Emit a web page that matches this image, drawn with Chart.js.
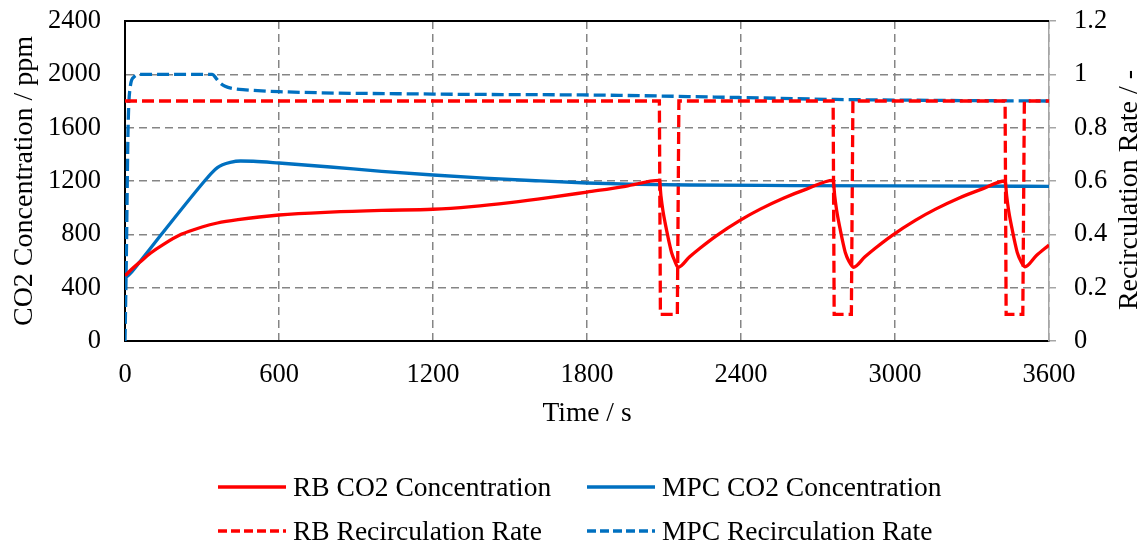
<!DOCTYPE html>
<html>
<head>
<meta charset="utf-8">
<script src="https://cdn.jsdelivr.net/npm/chart.js@4/dist/chart.umd.min.js"></script>
<style>
  html, body { margin: 0; padding: 0; background: #fff; }
  #wrap { position: relative; width: 1148px; height: 545px; overflow: hidden; }
  #c { position: absolute; left: 0; top: 0; }
  .lg { position: absolute; font-family: "Liberation Serif", "Times New Roman", serif; font-size: 27.5px; color: #000; line-height: 32px; white-space: nowrap; }
  .sw { position: absolute; }
</style>
</head>
<body>
<div id="wrap">
  <canvas id="c" width="1148" height="545"></canvas>
  <div id="legend"></div>
</div>
<script>
// ---- data ----
const seriesNames = ["RB CO2 Concentration", "MPC CO2 Concentration", "RB Recirculation Rate", "MPC Recirculation Rate"];

const rbCo2Time  = [0, 30, 60, 100, 150, 219, 300, 360, 440, 600, 800, 1000, 1200, 1350, 1500, 1650, 1800, 1950, 2082,
                    2088, 2096, 2104, 2110, 2120, 2130, 2142, 2155, 2200, 2240, 2305, 2396, 2475, 2565, 2655, 2759,
                    2765, 2773, 2781, 2787, 2797, 2807, 2820, 2838, 2883, 2923, 2988, 3079, 3158, 3248, 3338, 3429,
                    3435, 3443, 3451, 3457, 3467, 3477, 3490, 3506, 3550, 3600];
const rbCo2Value = [490, 545, 595, 660, 725, 800, 855, 885, 910, 945, 967, 980, 988, 1008, 1038, 1075, 1117, 1160, 1205,
                    1090, 975, 890, 832, 740, 660, 600, 553, 632, 696, 791, 905, 989, 1071, 1139, 1205,
                    1090, 975, 890, 832, 740, 660, 600, 553, 632, 696, 791, 905, 989, 1071, 1139, 1200,
                    1090, 975, 890, 832, 740, 660, 600, 557, 640, 720];

const mpcCo2Time  = [0, 20, 60, 142, 310, 340, 360, 380, 410, 450, 500, 600, 800, 1000, 1200, 1400, 1600, 1800, 2000, 2200, 2600, 3000, 3600];
const mpcCo2Value = [470, 505, 600, 800, 1200, 1265, 1300, 1322, 1340, 1350, 1348, 1335, 1305, 1272, 1245, 1222, 1202, 1185, 1175, 1170, 1166, 1163, 1160];

const rbRateTime  = [0, 2082, 2086, 2152, 2158, 2759, 2763, 2830, 2836, 3429, 3433, 3498, 3504, 3600];
const rbRateValue = [0.9, 0.9, 0.1, 0.1, 0.9, 0.9, 0.1, 0.1, 0.9, 0.9, 0.1, 0.1, 0.9, 0.9];

const mpcRateTime  = [0, 5, 12, 20, 35, 60, 340, 355, 370, 390, 420, 470, 600, 1200, 1850, 2400, 2760, 3200, 3600];
const mpcRateValue = [0, 0.3, 0.8, 0.95, 0.99, 1.0, 1.0, 0.985, 0.968, 0.955, 0.947, 0.942, 0.935, 0.926, 0.922, 0.913, 0.906, 0.902, 0.9];

const xTickLabels  = ["0", "600", "1200", "1800", "2400", "3000", "3600"];
const yTickLabels  = ["0", "400", "800", "1200", "1600", "2000", "2400"];
const y2TickLabels = ["0", "0.2", "0.4", "0.6", "0.8", "1", "1.2"];

const xTitle = "Time / s";
const yTitle = "CO2 Concentration / ppm";
const y2Title = "Recirculation Rate / -";

// ---- chart ----
const RED = "#FF0000", BLUE = "#0070C0";
const FONT = '"Liberation Serif", "Times New Roman", serif';
const DASH = [12, 5];
const zip = (t, v) => t.map((x, i) => ({x: x, y: v[i]}));

Chart.defaults.color = "#000";
Chart.defaults.font.family = FONT;

const frame = {
  id: "frame",
  beforeDatasetsDraw(chart) {
    const {ctx, chartArea: a} = chart;
    ctx.save();
    ctx.strokeStyle = "#000";
    ctx.lineWidth = 2;
    ctx.beginPath();
    ctx.moveTo(a.left - 1, a.top);
    ctx.lineTo(a.right, a.top);
    ctx.stroke();
    ctx.restore();
  },
  afterDraw(chart) {
    const {ctx, chartArea: a} = chart;
    ctx.save();
    ctx.font = "28px " + FONT;
    ctx.fillStyle = "#000";
    ctx.textAlign = "center";
    ctx.textBaseline = "middle";
    ctx.translate(1130, (a.top + a.bottom) / 2 + 9);
    ctx.rotate(-Math.PI / 2);
    ctx.fillText(y2Title, 0, 0);
    ctx.restore();
  }
};

const gridColor = "#858585";
const noVPad = s => { s.paddingTop = 0; s.paddingBottom = 0; };

new Chart(document.getElementById("c"), {
  type: "line",
  data: {
    datasets: [
      { label: seriesNames[0], data: zip(rbCo2Time, rbCo2Value), yAxisID: "y", borderColor: RED, borderWidth: 3.3, pointRadius: 0, cubicInterpolationMode: "monotone" },
      { label: seriesNames[1], data: zip(mpcCo2Time, mpcCo2Value), yAxisID: "y", borderColor: BLUE, borderWidth: 3.3, pointRadius: 0, cubicInterpolationMode: "monotone" },
      { label: seriesNames[2], data: zip(rbRateTime, rbRateValue), yAxisID: "y2", borderColor: RED, borderWidth: 3.3, borderDash: DASH, pointRadius: 0, tension: 0 },
      { label: seriesNames[3], data: zip(mpcRateTime, mpcRateValue), yAxisID: "y2", borderColor: BLUE, borderWidth: 3.3, borderDash: DASH, pointRadius: 0, cubicInterpolationMode: "monotone" }
    ]
  },
  options: {
    responsive: false,
    animation: false,
    devicePixelRatio: 1,
    layout: { padding: { top: 21, left: 0, right: 0, bottom: 105 } },
    plugins: { legend: { display: false }, tooltip: { enabled: false } },
    scales: {
      x: {
        type: "linear", min: 0, max: 3600,
        afterFit(s) { s.height = 99; s.paddingLeft = 0; s.paddingRight = 0; },
        ticks: { stepSize: 600, padding: 18, font: { size: 26.5 }, maxRotation: 0,
                 callback: (v, i) => xTickLabels[i] },
        grid: { color: gridColor, lineWidth: 1.5, drawTicks: false },
        border: { color: "#000", width: 2, dash: [8, 5] },
        title: { display: true, text: xTitle, font: { size: 27.5 }, padding: { top: 0, bottom: 9.5 } }
      },
      y: {
        position: "left", min: 0, max: 2400,
        afterFit(s) { s.width = 125; noVPad(s); },
        ticks: { stepSize: 400, padding: 24, font: { size: 26.5 },
                 callback: (v, i) => yTickLabels[i] },
        grid: { color: gridColor, lineWidth: 1.5, drawTicks: false },
        border: { color: "#000", width: 2, dash: [8, 5] },
        title: { display: true, text: yTitle, font: { size: 28 }, padding: { top: 7.5, bottom: 0 } }
      },
      y2: {
        position: "right", min: 0, max: 1.2,
        afterFit(s) { s.width = 99; noVPad(s); },
        ticks: { stepSize: 0.2, padding: 18, font: { size: 26.5 },
                 callback: (v, i) => y2TickLabels[i] },
        grid: { drawOnChartArea: false, drawTicks: true, tickLength: 7, color: "#a6a6a6", lineWidth: 1.5 },
        border: { color: "#a6a6a6", width: 1.5 }
      }
    }
  },
  plugins: [frame]
});

// ---- legend (HTML) ----
const legendItems = [
  { name: seriesNames[0], color: RED,  dashed: false, sx: 217, tx: 293, cy: 487 },
  { name: seriesNames[1], color: BLUE, dashed: false, sx: 586, tx: 662, cy: 487 },
  { name: seriesNames[2], color: RED,  dashed: true,  sx: 217, tx: 293, cy: 531 },
  { name: seriesNames[3], color: BLUE, dashed: true,  sx: 586, tx: 662, cy: 531 }
];
const lg = document.getElementById("legend");
legendItems.forEach(it => {
  const svgNS = "http://www.w3.org/2000/svg";
  const svg = document.createElementNS(svgNS, "svg");
  svg.setAttribute("width", "70"); svg.setAttribute("height", "8");
  svg.setAttribute("class", "sw");
  svg.style.left = it.sx + "px"; svg.style.top = (it.cy - 4) + "px";
  const ln = document.createElementNS(svgNS, "line");
  ln.setAttribute("x1", "1"); ln.setAttribute("y1", "4"); ln.setAttribute("x2", "69"); ln.setAttribute("y2", "4");
  ln.setAttribute("stroke", it.color); ln.setAttribute("stroke-width", "3.5");
  if (it.dashed) ln.setAttribute("stroke-dasharray", "9 4");
  svg.appendChild(ln);
  lg.appendChild(svg);
  const d = document.createElement("div");
  d.className = "lg";
  d.textContent = it.name;
  d.style.left = it.tx + "px"; d.style.top = (it.cy - 16) + "px";
  lg.appendChild(d);
});
</script>
</body>
</html>
